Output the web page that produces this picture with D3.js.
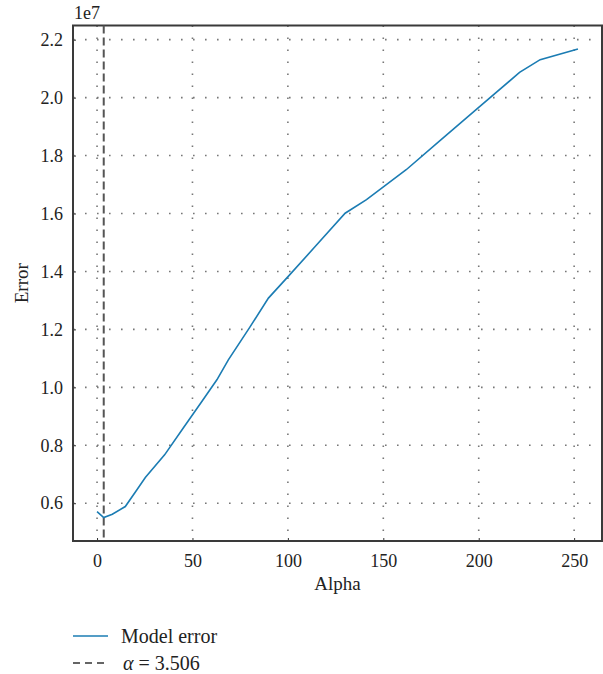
<!DOCTYPE html>
<html>
<head>
<meta charset="utf-8">
<script src="https://cdn.jsdelivr.net/npm/d3@7"></script>
<style>
  body { margin: 0; background: #fff; }
  text { font-family: "Liberation Serif", "DejaVu Serif", serif; fill: #222; }
</style>
</head>
<body>
<div id="chart"></div>
<script>
// alpha values and model error (units of 1e7)
const alphas = [0, 3.5, 8, 14.8, 20, 25.3, 35.4, 45, 55, 62.8, 68.8, 80, 89.8, 100.2, 115, 130, 141.2, 162, 180, 200, 221.4, 232.2, 252];
const errors = [0.571, 0.5505, 0.562, 0.5885, 0.638, 0.689, 0.767, 0.858, 0.952, 1.026, 1.095, 1.207, 1.308, 1.383, 1.491, 1.601, 1.648, 1.751, 1.853, 1.966, 2.087, 2.131, 2.168];
const bestAlpha = 3.506;
const xTicks = [0, 50, 100, 150, 200, 250];
const yTicks = [0.6, 0.8, 1.0, 1.2, 1.4, 1.6, 1.8, 2.0, 2.2];
const legendLabels = ["Model error", "= 3.506"];

const width = 603, height = 674;
const margin = { top: 25.5, right: 1, bottom: 133, left: 73 };
const innerW = width - margin.left - margin.right;
const innerH = height - margin.top - margin.bottom;

const svg = d3.select("#chart").append("svg")
    .attr("width", width)
    .attr("height", height);

const g = svg.append("g")
    .attr("transform", `translate(${margin.left},${margin.top})`);

// 5% padding like the original plot
const xPad = (d3.max(alphas) - d3.min(alphas)) * 0.05;
const yPad = (d3.max(errors) - d3.min(errors)) * 0.05;

const x = d3.scaleLinear()
    .domain([d3.min(alphas) - xPad, d3.max(alphas) + xPad])
    .range([0, innerW]);

const y = d3.scaleLinear()
    .domain([d3.min(errors) - yPad, d3.max(errors) + yPad])
    .range([innerH, 0]);

// dotted grid
g.append("g")
    .selectAll("line")
    .data(xTicks)
    .join("line")
    .attr("x1", d => x(d)).attr("x2", d => x(d))
    .attr("y1", 0).attr("y2", innerH)
    .attr("stroke", "#777")
    .attr("stroke-width", 1.6)
    .attr("stroke-dasharray", "1.6,10.4");

g.append("g")
    .selectAll("line")
    .data(yTicks)
    .join("line")
    .attr("x1", 0).attr("x2", innerW)
    .attr("y1", d => y(d)).attr("y2", d => y(d))
    .attr("stroke", "#777")
    .attr("stroke-width", 1.6)
    .attr("stroke-dasharray", "1.6,10.4");

// axes
const xAxis = g.append("g")
    .attr("transform", `translate(0,${innerH})`)
    .call(d3.axisBottom(x).tickValues(xTicks).tickSizeInner(-3).tickSizeOuter(0).tickPadding(13));

const yAxis = g.append("g")
    .call(d3.axisLeft(y).tickValues(yTicks).tickFormat(d3.format(".1f")).tickSizeInner(-3).tickSizeOuter(0).tickPadding(10));

[xAxis, yAxis].forEach(ax => {
    ax.attr("font-family", null);
    ax.select(".domain").remove();
    ax.selectAll(".tick line").attr("stroke", "#333");
    ax.selectAll("text")
        .style("font-family", '"Liberation Serif", "DejaVu Serif", serif')
        .style("font-size", "18px")
        .attr("fill", "#222");
});

// frame
g.append("rect")
    .attr("x", 0).attr("y", 0)
    .attr("width", innerW).attr("height", innerH)
    .attr("fill", "none")
    .attr("stroke", "#3a3a3a")
    .attr("stroke-width", 2);

// best alpha
g.append("line")
    .attr("x1", x(bestAlpha)).attr("x2", x(bestAlpha))
    .attr("y1", 0).attr("y2", innerH)
    .attr("stroke", "#555")
    .attr("stroke-width", 2)
    .attr("stroke-dasharray", "8,4");

// error curve
const line = d3.line()
    .x((d, i) => x(alphas[i]))
    .y(d => y(d));

g.append("path")
    .datum(errors)
    .attr("d", line)
    .attr("fill", "none")
    .attr("stroke", "#1b7cb3")
    .attr("stroke-width", 1.6);

// labels
svg.append("text")
    .attr("x", 74).attr("y", 19)
    .style("font-size", "18px")
    .text("1e7");

svg.append("text")
    .attr("x", margin.left + x(d3.mean(x.domain())))
    .attr("y", 590)
    .attr("text-anchor", "middle")
    .style("font-size", "19px")
    .text("Alpha");

svg.append("text")
    .attr("transform", `translate(28,${margin.top + innerH / 2}) rotate(-90)`)
    .attr("text-anchor", "middle")
    .style("font-size", "19px")
    .text("Error");

// legend
const legend = svg.append("g");
legend.append("line")
    .attr("x1", 73).attr("x2", 108)
    .attr("y1", 636).attr("y2", 636)
    .attr("stroke", "#1b7cb3")
    .attr("stroke-width", 1.6);
legend.append("text")
    .attr("x", 121).attr("y", 643)
    .style("font-size", "20px")
    .text(legendLabels[0]);

legend.append("line")
    .attr("x1", 73).attr("x2", 108)
    .attr("y1", 663).attr("y2", 663)
    .attr("stroke", "#333")
    .attr("stroke-width", 1.6)
    .attr("stroke-dasharray", "7,5");
const t2 = legend.append("text")
    .attr("x", 123).attr("y", 670)
    .style("font-size", "20px");
t2.append("tspan").style("font-style", "italic").text("α");
t2.append("tspan").text(" " + legendLabels[1]);
</script>
</body>
</html>
